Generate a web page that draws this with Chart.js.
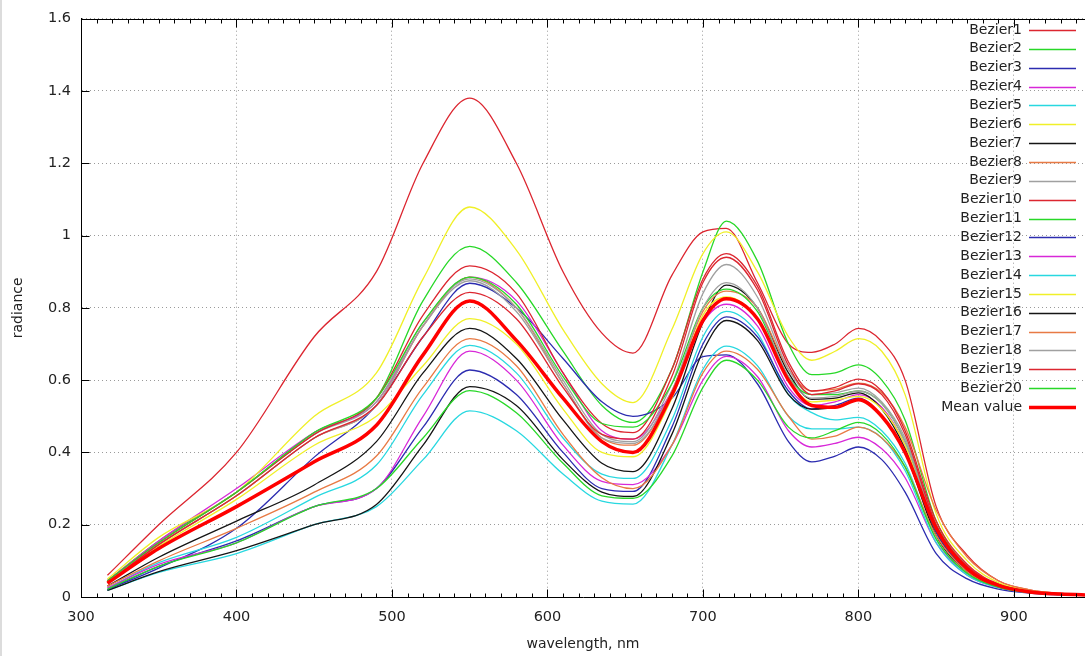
<!DOCTYPE html>
<html>
<head>
<meta charset="utf-8">
<script src="https://cdn.jsdelivr.net/npm/chart.js@4.4.0/dist/chart.umd.min.js"></script>
<style>
  html, body { margin: 0; padding: 0; background: #fff; }
  canvas { display: block; }
</style>
</head>
<body>
<canvas id="spectra" width="1085" height="656"></canvas>
<script>
// wavelength grid (nm)
const wavelengths = [317, 350, 400, 450, 490, 520, 550, 580, 610, 635, 655, 680, 700, 715, 735, 755, 770, 785, 800, 815, 830, 850, 870, 890, 910, 930, 950];

const bezier1  = [.06, .20, .40, .72, .90, 1.20, 1.38, 1.20, .90, .73, .675, .89, 1.01, 1.02, .87, .70, .677, .70, .743, .707, .60, .25, .115, .045, .02, .01, .006];
const bezier2  = [.045, .155, .29, .455, .55, .82, .97, .87, .68, .53, .483, .63, .90, 1.04, .93, .70, .615, .62, .642, .60, .49, .21, .085, .035, .015, .008, .005];
const bezier3  = [.02, .08, .19, .387, .53, .72, .868, .80, .66, .54, .50, .55, .665, .67, .59, .43, .374, .39, .415, .38, .29, .12, .05, .022, .011, .006, .004];
const bezier4  = [.045, .155, .30, .455, .54, .75, .885, .82, .62, .46, .437, .57, .76, .81, .75, .58, .53, .54, .56, .525, .42, .19, .08, .033, .015, .008, .005];
const bezier5  = [.025, .095, .165, .275, .365, .56, .696, .62, .44, .34, .328, .49, .72, .79, .73, .56, .51, .49, .497, .46, .37, .16, .065, .028, .013, .007, .004];
const bezier6  = [.05, .165, .29, .50, .62, .88, 1.079, .96, .74, .59, .538, .74, .95, 1.01, .90, .72, .655, .68, .715, .68, .56, .23, .10, .04, .018, .009, .005];
const bezier7  = [.03, .11, .21, .31, .43, .62, .743, .66, .49, .37, .347, .52, .76, .863, .80, .62, .547, .55, .565, .52, .41, .18, .075, .03, .014, .008, .005];
const bezier8  = [.04, .145, .28, .44, .53, .75, .885, .80, .59, .44, .42, .57, .79, .846, .80, .63, .57, .575, .592, .565, .47, .24, .11, .045, .02, .01, .006];
const bezier9  = [.04, .15, .29, .45, .54, .76, .88, .80, .60, .45, .43, .59, .84, .92, .83, .63, .56, .565, .578, .54, .44, .20, .085, .034, .015, .008, .005];
const bezier10 = [.045, .15, .29, .45, .55, .78, .916, .84, .62, .48, .455, .63, .88, .95, .86, .65, .57, .58, .603, .57, .46, .21, .09, .036, .016, .008, .005];
const bezier11 = [.045, .15, .29, .455, .55, .76, .885, .81, .61, .48, .47, .59, .80, .852, .79, .61, .56, .56, .57, .535, .43, .19, .08, .033, .015, .008, .005];
const bezier12 = [.02, .085, .155, .25, .30, .47, .628, .56, .40, .30, .292, .47, .70, .775, .72, .57, .52, .53, .55, .50, .40, .18, .075, .03, .014, .008, .005];
const bezier13 = [.025, .09, .15, .25, .30, .50, .68, .60, .42, .32, .311, .42, .60, .666, .61, .46, .415, .425, .442, .41, .33, .15, .06, .026, .012, .007, .004];
const bezier14 = [.018, .068, .12, .20, .25, .38, .515, .46, .34, .265, .257, .42, .63, .694, .64, .50, .465, .465, .47, .44, .35, .15, .06, .026, .012, .007, .004];
const bezier15 = [.04, .14, .27, .42, .50, .64, .77, .70, .52, .40, .388, .55, .78, .83, .77, .60, .54, .545, .555, .52, .42, .19, .08, .032, .015, .008, .005];
const bezier16 = [.018, .07, .128, .20, .256, .42, .582, .53, .38, .29, .278, .45, .68, .765, .71, .56, .52, .525, .545, .50, .40, .17, .07, .028, .013, .007, .004];
const bezier17 = [.03, .10, .19, .29, .39, .58, .715, .64, .45, .33, .30, .42, .62, .68, .63, .50, .437, .445, .47, .44, .36, .17, .07, .028, .013, .007, .004];
const bezier18 = [.04, .145, .28, .44, .53, .75, .875, .79, .59, .44, .425, .57, .80, .87, .80, .61, .55, .555, .57, .535, .43, .19, .08, .032, .015, .008, .005];
const bezier19 = [.04, .145, .28, .44, .53, .72, .843, .77, .58, .45, .437, .61, .87, .94, .85, .64, .56, .57, .59, .56, .45, .20, .085, .034, .015, .008, .005];
const bezier20 = [.022, .085, .15, .25, .30, .44, .571, .51, .37, .28, .273, .39, .58, .655, .60, .47, .44, .46, .483, .45, .36, .16, .065, .027, .012, .007, .004];
const meanValue = [.038, .134, .25, .374, .475, .67, .819, .71, .55, .43, .40, .56, .765, .825, .77, .60, .53, .525, .546, .50, .40, .19, .078, .032, .014, .008, .005];

const seriesNames = ['Bezier1', 'Bezier2', 'Bezier3', 'Bezier4', 'Bezier5', 'Bezier6', 'Bezier7', 'Bezier8', 'Bezier9', 'Bezier10',
  'Bezier11', 'Bezier12', 'Bezier13', 'Bezier14', 'Bezier15', 'Bezier16', 'Bezier17', 'Bezier18', 'Bezier19', 'Bezier20', 'Mean value'];
const seriesValues = [bezier1, bezier2, bezier3, bezier4, bezier5, bezier6, bezier7, bezier8, bezier9, bezier10,
  bezier11, bezier12, bezier13, bezier14, bezier15, bezier16, bezier17, bezier18, bezier19, bezier20, meanValue];

// gnuplot-like line colours, cycling every 9
const palette = ['#dc2630', '#28d828', '#2c2cb0', '#d828d8', '#28d8e0', '#f0f028', '#151515', '#e87a44', '#a0a0a0'];

const yTicks = [0, 0.2, 0.4, 0.6, 0.8, 1, 1.2, 1.4, 1.6];
const textColor = '#222';
const fontFamily = '"DejaVu Sans", Verdana, sans-serif';

const datasets = seriesValues.map((vals, i) => {
  const isMean = i === seriesValues.length - 1;
  return {
    label: seriesNames[i],
    data: wavelengths.map((x, j) => ({ x: x, y: vals[j] })),
    borderColor: isMean ? '#ff0000' : palette[i % palette.length],
    borderWidth: isMean ? 3.5 : 1.3,
    pointRadius: 0,
    fill: false,
    cubicInterpolationMode: 'monotone',
    order: isMean ? 0 : 30 - i
  };
});

// frame ticks (inward, gnuplot style), top border, legend on the right
const framePlugin = {
  id: 'frame',
  beforeDraw(chart) {
    const ctx = chart.ctx;
    ctx.save();
    ctx.fillStyle = '#dcdcdc';
    ctx.fillRect(0, 0, 2, chart.height);
    ctx.restore();
  },
  afterDatasetsDraw(chart) {
    const { ctx, chartArea: a, scales: { x, y } } = chart;
    ctx.save();
    ctx.strokeStyle = '#000';
    ctx.lineWidth = 1;
    ctx.beginPath();
    const top = Math.round(a.top) + 0.5, bot = Math.round(a.bottom) + 0.5, left = Math.round(a.left) + 0.5;
    ctx.moveTo(a.left, top); ctx.lineTo(a.right, top);
    for (let v = 300; v <= x.max; v += 10) {
      const px = Math.round(x.getPixelForValue(v)) + 0.5;
      const len = v % 100 === 0 ? 8 : 4;
      ctx.moveTo(px, bot); ctx.lineTo(px, bot - len);
      ctx.moveTo(px, top); ctx.lineTo(px, top + len);
    }
    yTicks.forEach(v => {
      const py = Math.round(y.getPixelForValue(v)) + 0.5;
      ctx.moveTo(left, py); ctx.lineTo(left + 8, py);
    });
    ctx.stroke();

    // legend
    ctx.font = '14px ' + fontFamily;
    ctx.textAlign = 'right';
    ctx.textBaseline = 'middle';
    chart.data.datasets.forEach((ds, i) => {
      const ly = 30 + i * 18.85;
      ctx.fillStyle = textColor;
      ctx.fillText(ds.label, 1022, ly);
      ctx.strokeStyle = ds.borderColor;
      ctx.lineWidth = ds.borderWidth;
      ctx.beginPath();
      ctx.moveTo(1029, Math.round(ly) + 0.5);
      ctx.lineTo(1076, Math.round(ly) + 0.5);
      ctx.stroke();
    });
    ctx.restore();
  }
};

new Chart(document.getElementById('spectra'), {
  type: 'line',
  data: { datasets: datasets },
  options: {
    responsive: false,
    animation: false,
    layout: { padding: { top: 11, right: 0, left: 0, bottom: 0 } },
    plugins: {
      legend: { display: false },
      tooltip: { enabled: false }
    },
    scales: {
      x: {
        type: 'linear',
        min: 300,
        max: 945.7,
        afterFit: s => { s.height = 59; },
        ticks: {
          stepSize: 100,
          includeBounds: false,
          padding: 12,
          color: textColor,
          font: { family: fontFamily, size: 14.5 }
        },
        grid: { color: '#9a9a9a', drawTicks: false },
        border: { color: '#000', width: 1, dash: [1, 3] },
        title: {
          display: true,
          text: 'wavelength, nm',
          color: textColor,
          font: { family: fontFamily, size: 14 },
          padding: { top: 0, bottom: 3 }
        }
      },
      y: {
        min: 0,
        max: 1.6,
        afterFit: s => { s.width = 81; },
        afterBuildTicks: s => { s.ticks = yTicks.map(v => ({ value: v })); },
        ticks: {
          padding: 10,
          color: textColor,
          font: { family: fontFamily, size: 14.5 },
          callback: v => String(+v.toFixed(1))
        },
        grid: { color: '#9a9a9a', drawTicks: false },
        border: { color: '#000', width: 1, dash: [1, 3] },
        title: {
          display: true,
          text: 'radiance',
          color: textColor,
          font: { family: fontFamily, size: 14 },
          padding: { top: 10, bottom: 0 }
        }
      }
    }
  },
  plugins: [framePlugin]
});
</script>
</body>
</html>
